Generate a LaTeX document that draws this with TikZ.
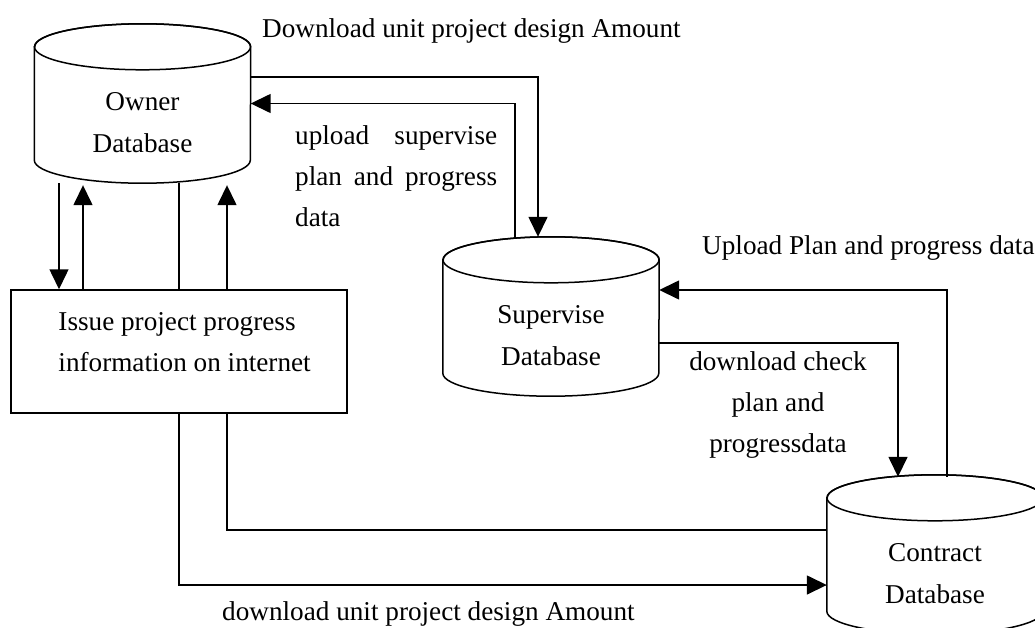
\documentclass[tikz,border=0pt]{standalone}
\usepackage{fontspec}
\setmainfont{Liberation Serif}
\usetikzlibrary{arrows.meta,calc}
\tikzset{
  conn/.style={line width=1.5pt},
  arr/.style={line width=1.5pt,-{Triangle[length=20pt,width=19pt]}},
  dbbody/.style={inner sep=0pt,minimum width=216pt,minimum height=159pt},
  dbtext/.style={align=center,inner sep=0pt},
  lbl/.style={inner sep=0pt},
  procbox/.style={draw,line width=1.5pt,fill=white,inner sep=0pt,minimum width=336pt,minimum height=123pt},
}
\newcommand\drawcyl[1]{%
  \draw[line width=1.5pt,fill=white] ([yshift=-23pt]#1.north west) -- ([yshift=23pt]#1.south west)
     arc[start angle=180,end angle=360,x radius=108pt,y radius=23pt]
     -- ([yshift=-23pt]#1.north east)
     arc[start angle=0,end angle=180,x radius=108pt,y radius=23pt] -- cycle;
  \draw[line width=1.5pt] ([yshift=-23pt]#1.north) ellipse[x radius=108pt,y radius=23pt];
}
\begin{document}
\begin{tikzpicture}[x=1pt,y=-1pt,font=\fontsize{27.2}{41}\selectfont]
\useasboundingbox (0,0) rectangle (1035,627);
% database nodes (bodies)
\node[dbbody] (owner) at (142.5,103.5) {};
\node[dbbody] (supervise) at (551,316.5) {};
\node[dbbody] (contract) at (935,554.5) {};
\drawcyl{owner}
\drawcyl{supervise}
\drawcyl{contract}
\node[dbtext,anchor=base] at ($(owner.center)+(0,6.5)$) {Owner};
\node[dbtext,anchor=base] at ($(owner.center)+(0,48.5)$) {Database};
\node[dbtext,anchor=base] at ($(supervise.center)+(0,7)$) {Supervise};
\node[dbtext,anchor=base] at ($(supervise.center)+(0,48.5)$) {Database};
\node[dbtext,anchor=base] at ($(contract.center)+(0,7)$) {Contract};
\node[dbtext,anchor=base] at ($(contract.center)+(0,48.5)$) {Database};
% connectors behind the process box
\draw[arr] ([xshift=36.5pt]owner.south) |- ([yshift=-30.5pt]contract.west);
\draw[arr] ([yshift=24.5pt]contract.west) -| ([xshift=84.5pt,yshift=-2pt]owner.south);
% process box
\node[procbox] (issue) at (179,351.5) {};
\node[lbl,anchor=base west,align=left] at ($(issue.north west)+(48,82.5)$) {Issue project progress\\information on internet};
% owner <-> issue
\draw[arr] ([xshift=-83.5pt]owner.south) -- (issue.north -| 59,0);
\draw[arr] (issue.north -| 83,0) -- ([xshift=-59.5pt,yshift=-2pt]owner.south);
% owner <-> supervise
\draw[arr] ([yshift=26.5pt]owner.east) -| ([xshift=-13pt]supervise.north);
\draw[arr] ([xshift=-36pt,yshift=-1.5pt]supervise.north) |- (owner.east);
% supervise <-> contract
\draw[arr] ([xshift=12pt,yshift=-2pt]contract.north) |- ([yshift=26.5pt]supervise.east);
\draw[arr] ([yshift=-26.5pt]supervise.east) -| ([xshift=-37pt,yshift=-2pt]contract.north);
% labels
\node[lbl,anchor=base west] (l1) at (262,37) {Download unit project design Amount};
\node[lbl,anchor=north west,text width=202pt,align=justify] (l2) at (295,125) {upload supervise plan and progress data};
\node[lbl,anchor=base west] (l3) at (702,254) {Upload Plan and progress data};
\node[lbl,anchor=north,align=center] (l4) at (778,351) {download check\\plan and\\progressdata};
\node[lbl,anchor=base west] (l5) at (222,620) {download unit project design Amount};
\end{tikzpicture}
\end{document}
